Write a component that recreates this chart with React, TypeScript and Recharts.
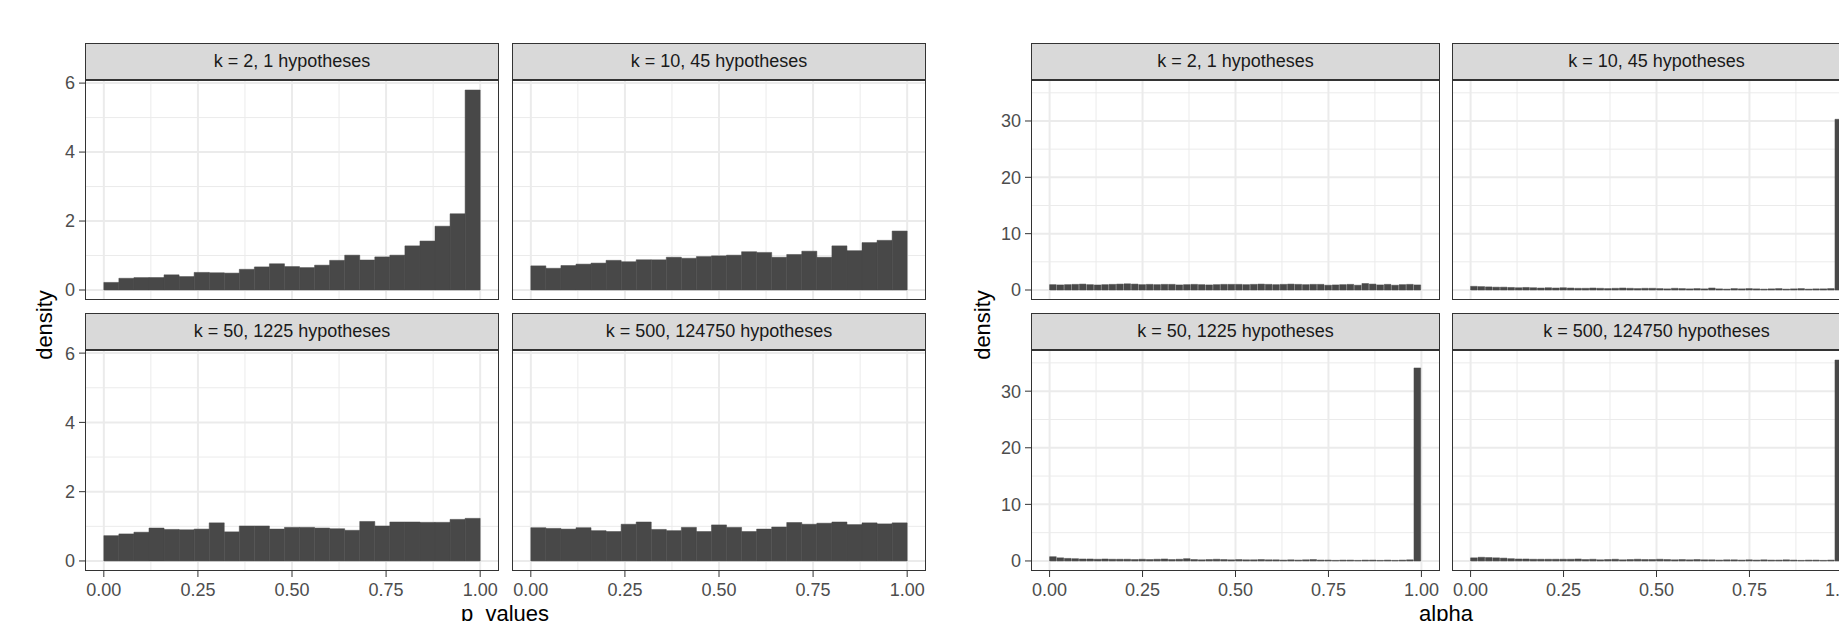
import { ComposedChart, Bar, XAxis, YAxis, CartesianGrid } from "recharts";

const FONT = '"Liberation Sans", Arial, Helvetica, sans-serif';
const BAR_FILL = "#484848";
const GRID = "#ebebeb";
const DARK = "#333333";

const X_TICKS = [0, 0.25, 0.5, 0.75, 1];
const X_MINOR = [0.125, 0.375, 0.625, 0.875];

const P_TICKS = [0, 2, 4, 6];
const P_MINOR = [1, 3, 5];
const ALPHA_TICKS = [0, 10, 20, 30];
const ALPHA_MINOR = [5, 15, 25, 35];

const FACETS = [
  "k = 2, 1 hypotheses",
  "k = 10, 45 hypotheses",
  "k = 50, 1225 hypotheses",
  "k = 500, 124750 hypotheses",
];

// p_values histograms, 25 bins of width 0.04
const pK2 = [0.22, 0.34, 0.36, 0.36, 0.44, 0.39, 0.51, 0.5, 0.49, 0.6, 0.67, 0.76, 0.68, 0.65, 0.72, 0.86, 1.01, 0.87, 0.96, 1.01, 1.28, 1.42, 1.85, 2.21, 5.8];
const pK10 = [0.7, 0.63, 0.71, 0.75, 0.78, 0.86, 0.82, 0.875, 0.875, 0.95, 0.92, 0.97, 0.99, 1.01, 1.11, 1.09, 0.95, 1.03, 1.125, 0.95, 1.28, 1.14, 1.375, 1.44, 1.71];
const pK50 = [0.73, 0.78, 0.83, 0.95, 0.91, 0.9, 0.92, 1.1, 0.84, 1.01, 1.01, 0.92, 0.97, 0.97, 0.95, 0.93, 0.885, 1.14, 1.01, 1.125, 1.125, 1.115, 1.115, 1.2, 1.23];
const pK500 = [0.96, 0.94, 0.92, 0.96, 0.875, 0.85, 1.06, 1.125, 0.91, 0.875, 0.97, 0.85, 1.04, 0.97, 0.85, 0.92, 0.98, 1.11, 1.06, 1.09, 1.125, 1.05, 1.1, 1.07, 1.1];

// alpha histograms, 50 bins of width 0.02
const aK2 = [0.95, 0.9, 0.95, 1.0, 1.05, 0.95, 0.9, 0.95, 1.0, 1.05, 1.1, 1.05, 0.95, 1.0, 0.95, 1.0, 1.0, 0.9, 0.95, 1.0, 0.95, 0.9, 0.95, 1.0, 1.0, 1.0, 0.95, 1.0, 1.05, 1.0, 0.95, 1.0, 1.05, 1.0, 0.95, 1.0, 1.0, 0.85, 0.9, 0.95, 1.0, 0.85, 1.15, 1.05, 0.9, 1.0, 0.85, 0.95, 1.0, 0.9];
const aK10 = [0.65, 0.6, 0.55, 0.5, 0.5, 0.45, 0.4, 0.45, 0.4, 0.35, 0.4, 0.35, 0.4, 0.35, 0.3, 0.3, 0.35, 0.3, 0.25, 0.3, 0.35, 0.3, 0.25, 0.3, 0.3, 0.25, 0.2, 0.3, 0.25, 0.2, 0.25, 0.2, 0.35, 0.2, 0.15, 0.25, 0.2, 0.25, 0.2, 0.15, 0.2, 0.25, 0.15, 0.2, 0.25, 0.15, 0.2, 0.2, 0.25, 30.3];
const aK50 = [0.75, 0.55, 0.45, 0.4, 0.35, 0.35, 0.3, 0.35, 0.3, 0.3, 0.3, 0.25, 0.3, 0.25, 0.3, 0.35, 0.25, 0.3, 0.4, 0.25, 0.2, 0.25, 0.3, 0.25, 0.2, 0.25, 0.2, 0.2, 0.25, 0.2, 0.2, 0.15, 0.2, 0.15, 0.2, 0.25, 0.15, 0.15, 0.1, 0.15, 0.15, 0.1, 0.15, 0.15, 0.1, 0.15, 0.1, 0.15, 0.2, 34.1];
const aK500 = [0.55, 0.65, 0.6, 0.55, 0.5, 0.4, 0.35, 0.35, 0.3, 0.3, 0.3, 0.3, 0.3, 0.3, 0.35, 0.25, 0.3, 0.2, 0.25, 0.3, 0.2, 0.25, 0.3, 0.25, 0.25, 0.3, 0.25, 0.2, 0.25, 0.2, 0.25, 0.2, 0.2, 0.15, 0.2, 0.2, 0.15, 0.2, 0.15, 0.2, 0.15, 0.15, 0.2, 0.15, 0.1, 0.15, 0.15, 0.1, 0.15, 35.5];

const Y_AXIS_W = 60;
const X_AXIS_H = 40;
const STRIP_H = 38;
const TOP_PAD = 14; // room above the plot so the top tick label is not clipped

interface PanelProps {
  label: string;
  values: number[];
  left: number;
  top: number;
  width: number;
  height: number;
  showX: boolean;
  showY: boolean;
  yDomain: [number, number];
  yTicks: number[];
  yMinor: number[];
}

function Panel({ label, values, left, top, width, height, showX, showY, yDomain, yTicks, yMinor }: PanelProps) {
  const n = values.length;
  const data = values.map((v, i) => ({
    bin: `${(i / n).toFixed(2)}-${((i + 1) / n).toFixed(2)}`,
    x: (i + 0.5) / n,
    v,
  }));
  // ggplot expands the 0..1 range by 5% each side
  const pad = (width * 0.05) / 1.1;
  const barSize = width / 1.1 / n;
  const yW = showY ? Y_AXIS_W : 0;
  const xH = showX ? X_AXIS_H : 0;
  const tickStyle = { fontSize: 18, fill: "#4d4d4d", fontFamily: FONT };

  return (
    <>
      <div style={{ position: "absolute", left: left - yW, top: top - TOP_PAD }}>
        <ComposedChart
          width={width + yW}
          height={height + xH + TOP_PAD}
          data={data}
          margin={{ top: TOP_PAD, right: 0, bottom: 0, left: 0 }}
          barCategoryGap={0}
        >
          <CartesianGrid stroke={GRID} strokeWidth={1} horizontalValues={yMinor} verticalValues={X_MINOR} />
          <CartesianGrid stroke={GRID} strokeWidth={2} horizontalValues={yTicks} verticalValues={X_TICKS} />
          <XAxis
            xAxisId={0}
            dataKey="x"
            type="number"
            domain={[-0.05, 1.05]}
            ticks={X_TICKS}
            interval={0}
            allowDataOverflow
            hide={!showX}
            height={X_AXIS_H}
            axisLine={false}
            tickLine={{ stroke: DARK, strokeWidth: 1 }}
            tickSize={6}
            tickMargin={6}
            tick={tickStyle}
            tickFormatter={(v: number) => v.toFixed(2)}
          />
          <XAxis xAxisId="bin" dataKey="bin" type="category" hide padding={{ left: pad, right: pad }} />
          <YAxis
            type="number"
            domain={yDomain}
            ticks={yTicks}
            interval={0}
            allowDataOverflow
            hide={!showY}
            width={yW}
            axisLine={false}
            tickLine={{ stroke: DARK, strokeWidth: 1 }}
            tickSize={6}
            tickMargin={4}
            tick={tickStyle}
          />
          <Bar
            xAxisId="bin"
            dataKey="v"
            fill={BAR_FILL}
            stroke={BAR_FILL}
            strokeWidth={0.5}
            barSize={barSize}
            isAnimationActive={false}
          />
        </ComposedChart>
      </div>
      <div
        style={{
          position: "absolute",
          left,
          top: top - STRIP_H + 1,
          width,
          height: STRIP_H,
          boxSizing: "border-box",
          background: "#d9d9d9",
          border: `1px solid ${DARK}`,
          borderBottomWidth: 2,
          color: "#1a1a1a",
          fontSize: 18,
          fontFamily: FONT,
          display: "flex",
          alignItems: "center",
          justifyContent: "center",
        }}
      >
        {label}
      </div>
      <div
        style={{
          position: "absolute",
          left,
          top,
          width,
          height,
          boxSizing: "border-box",
          border: `1px solid ${DARK}`,
          pointerEvents: "none",
        }}
      />
    </>
  );
}

function AxisTitle({ text, cx, baseline, rotate }: { text: string; cx: number; baseline: number; rotate?: boolean }) {
  if (rotate) {
    return (
      <div
        style={{
          position: "absolute",
          left: cx - 100,
          top: baseline - 12,
          width: 200,
          height: 24,
          lineHeight: "24px",
          textAlign: "center",
          fontSize: 22,
          fontFamily: FONT,
          color: "#000",
          transform: "rotate(-90deg)",
        }}
      >
        {text}
      </div>
    );
  }
  return (
    <div
      style={{
        position: "absolute",
        left: cx - 100,
        top: baseline - 19,
        width: 200,
        lineHeight: "22px",
        textAlign: "center",
        fontSize: 22,
        fontFamily: FONT,
        color: "#000",
      }}
    >
      {text}
    </div>
  );
}

const ROW_TOP = [80, 350];
const ROW_H = [220, 221];
const P_COLS = [85, 512];
const P_W = 414;
const A_COLS = [1031, 1452];
const A_W = 409;

export default function App() {
  const pSets = [pK2, pK10, pK50, pK500];
  const aSets = [aK2, aK10, aK50, aK500];
  return (
    <div
      style={{
        position: "absolute",
        left: 0,
        top: 0,
        width: 1839,
        height: 621,
        overflow: "hidden",
        background: "#fff",
      }}
    >
      {pSets.map((vals, i) => (
        <Panel
          key={`p${i}`}
          label={FACETS[i]}
          values={vals}
          left={P_COLS[i % 2]}
          top={ROW_TOP[Math.floor(i / 2)]}
          width={P_W}
          height={ROW_H[Math.floor(i / 2)]}
          showX={i >= 2}
          showY={i % 2 === 0}
          yDomain={[-0.29, 6.09]}
          yTicks={P_TICKS}
          yMinor={P_MINOR}
        />
      ))}
      {aSets.map((vals, i) => (
        <Panel
          key={`a${i}`}
          label={FACETS[i]}
          values={vals}
          left={A_COLS[i % 2]}
          top={ROW_TOP[Math.floor(i / 2)]}
          width={A_W}
          height={ROW_H[Math.floor(i / 2)]}
          showX={i >= 2}
          showY={i % 2 === 0}
          yDomain={[-1.775, 37.275]}
          yTicks={ALPHA_TICKS}
          yMinor={ALPHA_MINOR}
        />
      ))}
      <AxisTitle text="density" cx={45} baseline={325} rotate />
      <AxisTitle text="density" cx={983} baseline={325} rotate />
      <AxisTitle text="p_values" cx={505} baseline={622} />
      <AxisTitle text="alpha" cx={1446} baseline={622} />
    </div>
  );
}
